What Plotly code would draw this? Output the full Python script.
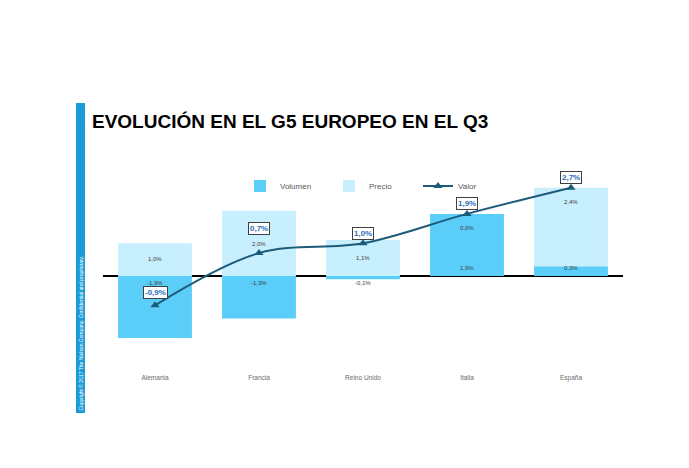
import plotly.graph_objects as go

categorias = ["Alemania", "Francia", "Reino Unido", "Italia", "España"]
volumen = [-1.9, -1.3, -0.1, 1.9, 0.3]
precio = [1.0, 2.0, 1.1, 0.0, 2.4]
valor = [-0.9, 0.7, 1.0, 1.9, 2.7]

def pct(v):
    return f"{v:.1f}%".replace(".", ",")

W, H = 689, 468
px_top, px_bot = 160, 372
y_top, y_bot = 3.55, -2.94

fig = go.Figure()
fig.add_trace(go.Bar(x=categorias, y=volumen, name="Volumen",
                     marker=dict(color="#5bcdf9", line=dict(width=0))))
fig.add_trace(go.Bar(x=categorias, y=precio, name="Precio",
                     marker=dict(color="#c8effd", line=dict(width=0))))
fig.add_trace(go.Scatter(x=categorias, y=valor, name="Valor", mode="lines+markers",
                         line=dict(color="#1e5b7a", width=2, shape="spline", smoothing=1.0),
                         marker=dict(symbol="triangle-up", size=8, color="#1e5b7a")))

ann = []
# Volumen labels (near base)
for c, v in zip(categorias, volumen):
    ann.append(dict(x=c, y=0, text=pct(v), showarrow=False, yshift=(8 if v > 0 else -7),
                    font=dict(size=6, color="#404040", family="Liberation Sans")))
# Precio labels
precio_shift = [-16, -33, -18, -14, -14]
for c, v, p, s in zip(categorias, volumen, precio, precio_shift):
    base = max(v, 0)
    ann.append(dict(x=c, y=base + p, text=pct(p), showarrow=False, yshift=s,
                    font=dict(size=6, color="#404040", family="Liberation Sans")))
# Valor labels (boxed)
valor_shift = [13, 25, 10, 10, 10]
for c, v, s in zip(categorias, valor, valor_shift):
    ann.append(dict(x=c, y=v, text="<b>" + pct(v) + "</b>", showarrow=False, yshift=s,
                    font=dict(size=8, color="#2a6ebd", family="Liberation Sans"),
                    bordercolor="#404040", borderwidth=1, borderpad=1, bgcolor="white"))
# title
ann.append(dict(xref="paper", yref="paper", x=90 / W, y=1 - 122 / H, xanchor="left", yanchor="middle",
                text="<b>EVOLUCIÓN EN EL G5 EUROPEO EN EL Q3</b>", showarrow=False,
                font=dict(size=19, color="black", family="Liberation Sans")))
# copyright vertical
ann.append(dict(xref="paper", yref="paper", x=80.5 / W, y=1 - 333 / H, xanchor="center", yanchor="middle",
                text="Copyright © 2017 The Nielsen Company. Confidential and proprietary.", textangle=-90,
                showarrow=False, font=dict(size=5, color="white", family="Liberation Sans")))

fig.update_layout(
    width=W, height=H, margin=dict(l=0, r=0, t=0, b=0),
    paper_bgcolor="white", plot_bgcolor="white",
    barmode="relative", bargap=0.29,
    showlegend=True,
    legend=dict(orientation="h", x=240 / W, y=1 - 186 / H, xanchor="left", yanchor="middle",
                font=dict(size=8, color="#595959", family="Liberation Sans"),
                entrywidth=44, traceorder="normal", bgcolor="rgba(0,0,0,0)"),
    xaxis=dict(domain=[103 / W, 623 / W], showgrid=False, showline=False, ticks="",
               tickfont=dict(size=6.5, color="#6a6a6a", family="Liberation Sans")),
    yaxis=dict(domain=[1 - px_bot / H, 1 - px_top / H], range=[y_bot, y_top], showgrid=False,
               showticklabels=False, zeroline=True, zerolinecolor="black", zerolinewidth=1.5),
    annotations=ann,
    shapes=[dict(type="rect", xref="paper", yref="paper", x0=76 / W, x1=85 / W,
                 y0=1 - 413 / H, y1=1 - 103 / H, fillcolor="#1b9cd8", line=dict(width=0), layer="below")],
)

fig.write_html("out.html")
